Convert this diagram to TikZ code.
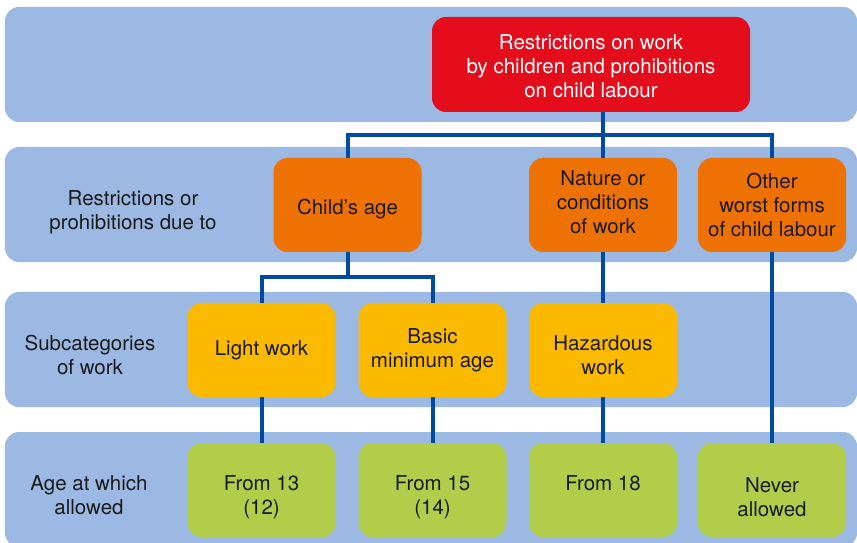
\documentclass[tikz,border=0pt]{standalone}
\usepackage{fontspec}
\setmainfont{TeX Gyre Heros}
\usetikzlibrary{positioning}
\definecolor{bandblue}{HTML}{9BB9E2}
\definecolor{topred}{HTML}{E30D1C}
\definecolor{duetoorange}{HTML}{EE7203}
\definecolor{subyellow}{HTML}{FBBA00}
\definecolor{agegreen}{HTML}{B2CD4A}
\definecolor{linkblue}{HTML}{004A9F}
\definecolor{txt}{HTML}{1A1A1A}
\tikzset{band/.style={fill=bandblue,rounded corners=14bp,minimum width=852bp,minimum height=115bp,inner sep=0pt}}
\tikzset{lbl/.style={align=center,text=txt,inner sep=1bp,font=\fontsize{20.5bp}{24bp}\selectfont}}
\tikzset{box/.style={lbl,rounded corners=14bp,minimum width=148bp,minimum height=94bp}}
\tikzset{lower/.style={text height=#1}}
\tikzset{link/.style={draw=linkblue,line width=4bp}}

\begin{document}
\begin{tikzpicture}[x=1bp,y=-1bp]
\useasboundingbox (0,0) rectangle (857,543);
\clip (0,0) rectangle (857,543);
\node[band] (row1) at (431,64.5) {};
\node[band] (row2) at (431,204.5) {};
\node[band] (row3) at (431,349.5) {};
\node[band] (row4) at (431,489.5) {};

\node[lbl] (dueto) at (133,212) {Restrictions or\\prohibitions due to};
\node[lbl] (subcat) at (90,355) {Subcategories\\of work};
\node[lbl] (allowed) at (89,495) {Age at which\\allowed};

\node[box,fill=topred,text=white,minimum width=318bp,minimum height=95bp,lower=67bp] (top) at (591,64.5) {Restrictions on work\\by children and prohibitions\\on child labour};

\begin{scope}[on grid]
\node[box,fill=duetoorange,lower=23bp] (age) at (347.5,205) {Child’s age};
\node[box,fill=duetoorange,lower=57bp] (nature) at (603,205) {Nature or\\conditions\\of work};
\node[box,fill=duetoorange] (other) at (772,205) {Other\\worst forms\\of child labour};

\node[box,fill=subyellow] (light) at (261.5,350) {Light work};
\node[box,fill=subyellow] (basic) [right=171bp of light] {Basic\\minimum age};
\node[box,fill=subyellow,lower=49bp] (hazard) [below=145bp of nature] {Hazardous\\work};

\node[box,fill=agegreen,lower=53bp] (from13) [below=140bp of light] {From 13\\(12)};
\node[box,fill=agegreen,lower=53bp] (from15) [below=140bp of basic] {From 15\\(14)};
\node[box,fill=agegreen,lower=53bp] (from18) [below=140bp of hazard] {From 18\\\phantom{(18)}};
\node[box,fill=agegreen,lower=53bp] (never) [below=285bp of other] {Never\\allowed};
\end{scope}

\coordinate (bar) at (603,135);
\coordinate (split) at (347.5,277);

\draw[link] (top.south -| nature) -- (nature.north);
\draw[link] (age.north) |- (bar) -| (other.north);
\draw[link] (age.south) -- (split);
\draw[link] (light.north) |- (split) -| (basic.north);
\draw[link] (nature.south) -- (hazard.north);
\draw[link] (hazard.south) -- (from18.north);
\draw[link] (other.south) -- (never.north);
\draw[link] (light.south) -- (from13.north);
\draw[link] (basic.south) -- (from15.north);
\end{tikzpicture}
\end{document}
